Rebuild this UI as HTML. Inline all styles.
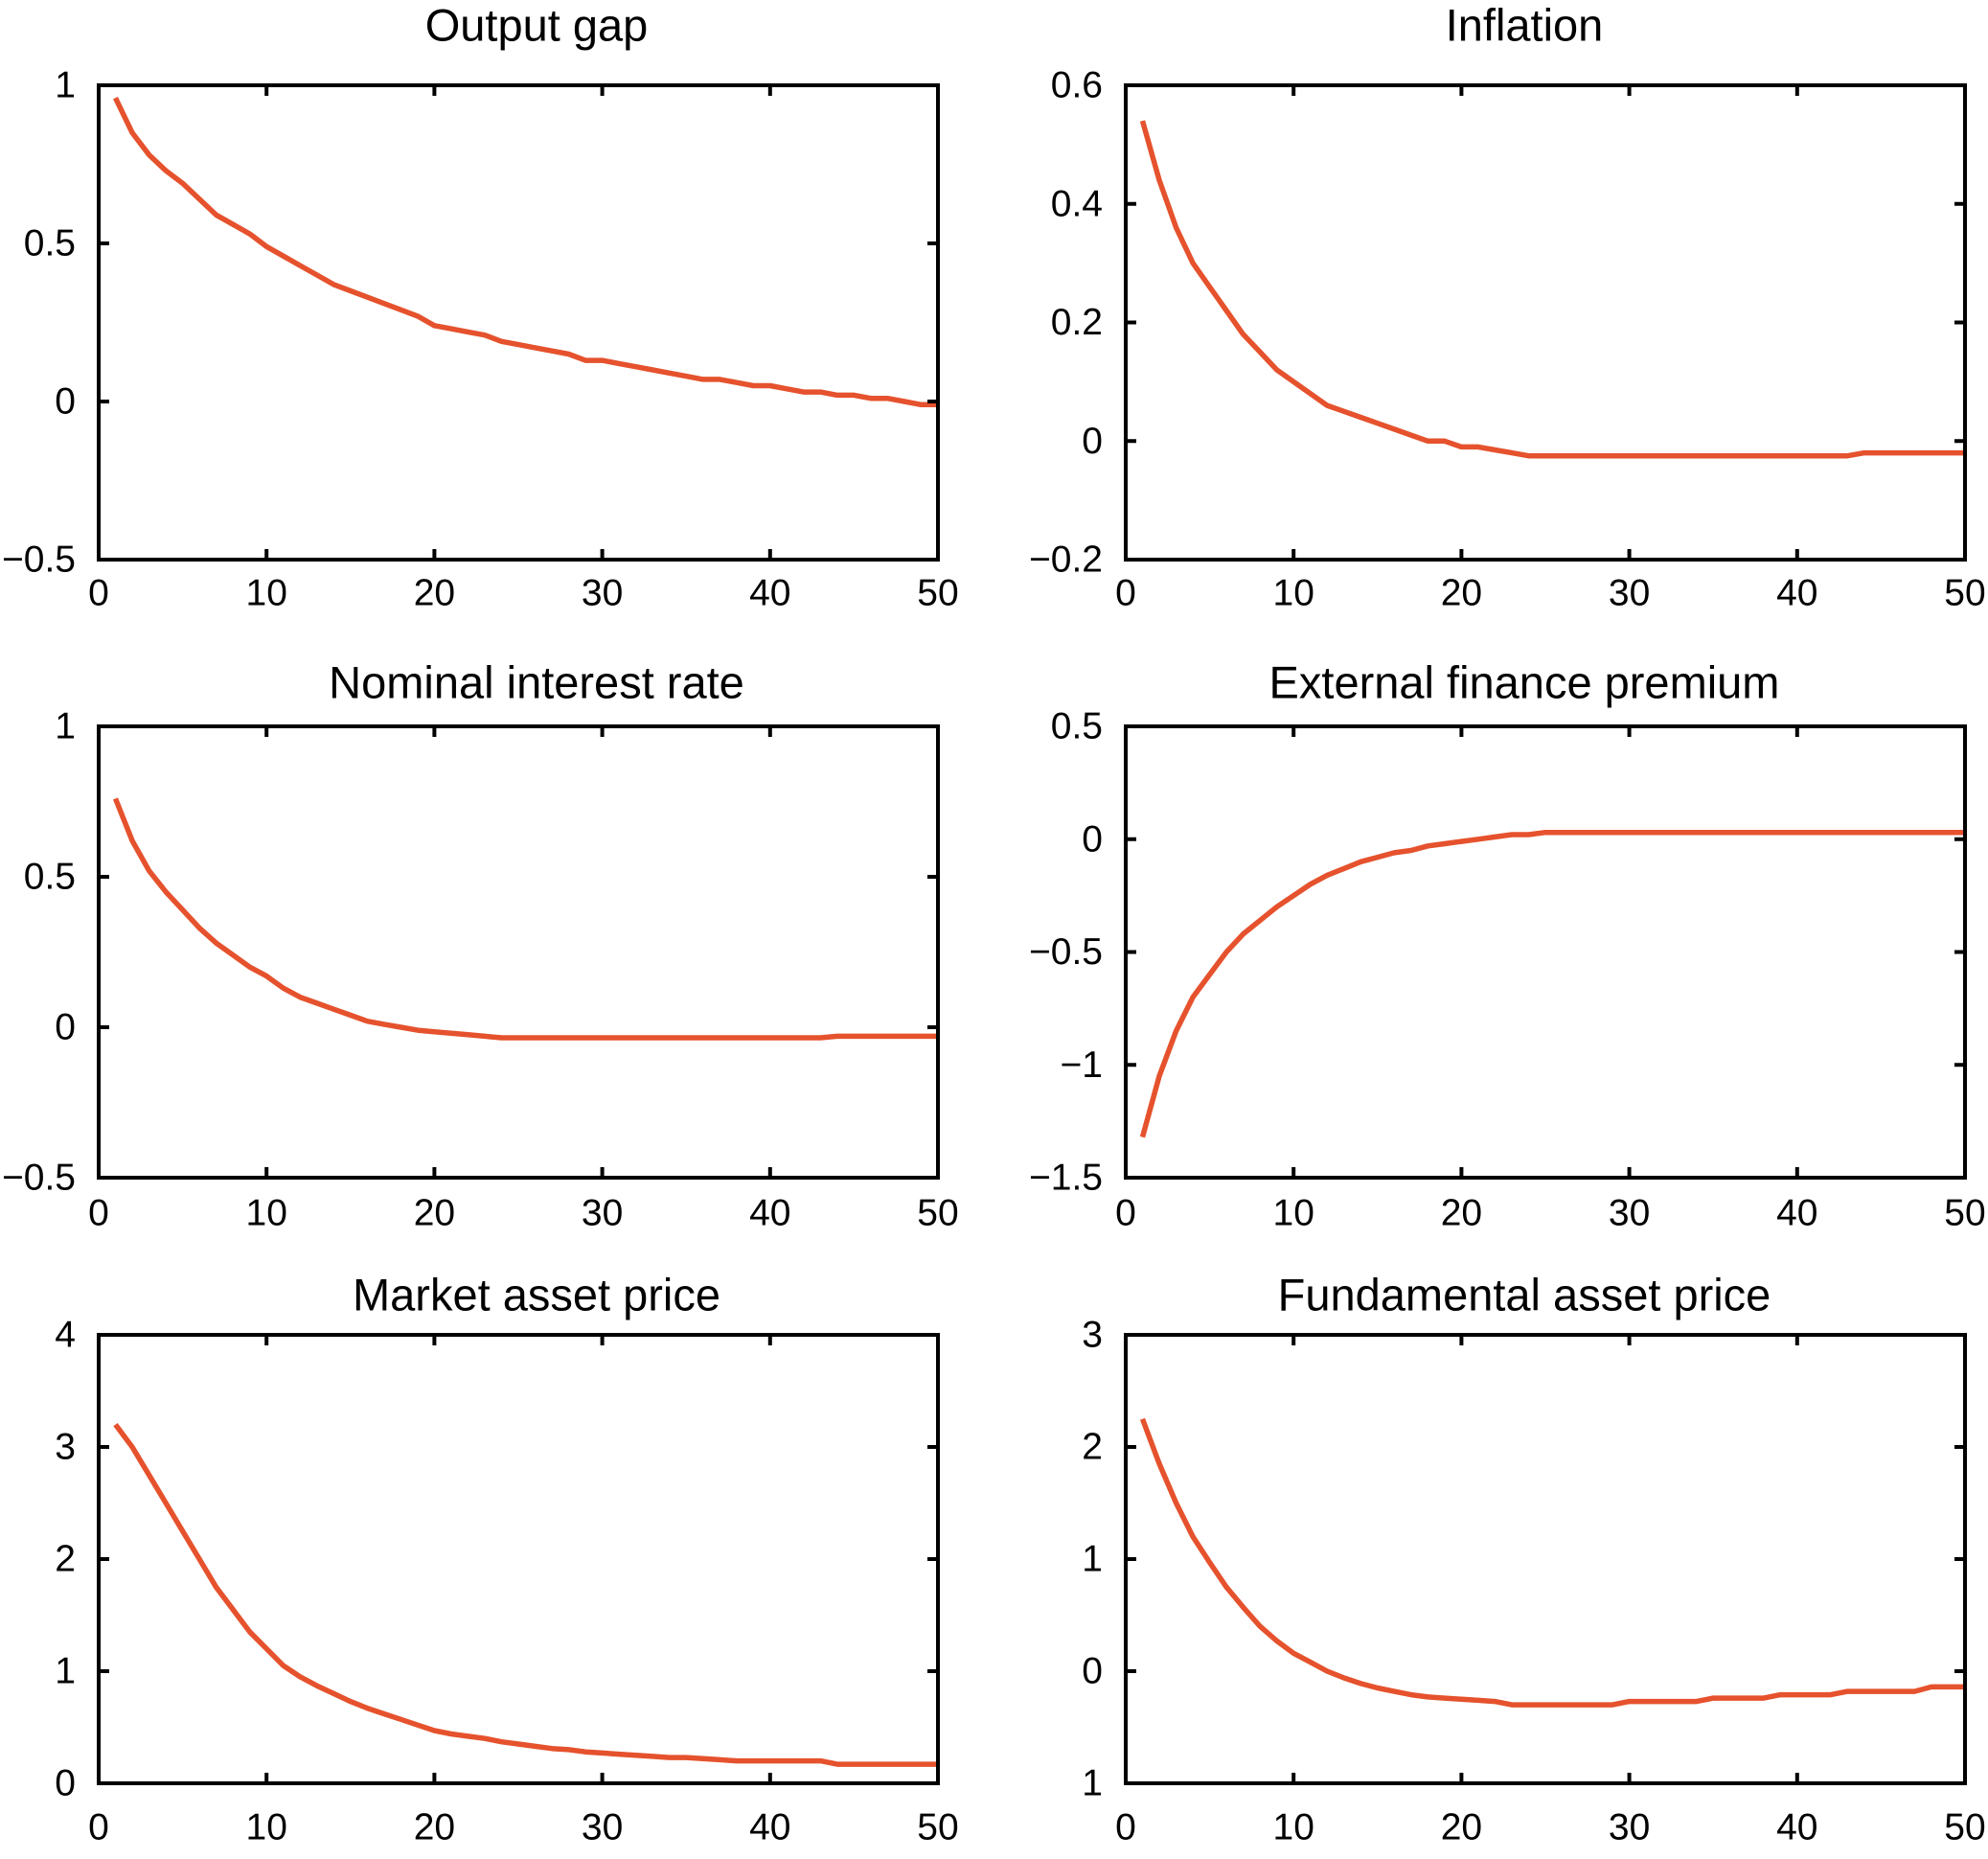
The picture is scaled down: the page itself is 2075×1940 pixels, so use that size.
<!DOCTYPE html>
<html><head><meta charset="utf-8"><style>
html,body{margin:0;padding:0;background:#fff;}
svg{display:block;font-family:"Liberation Sans",Arial,sans-serif;}
</style></head>
<body>
<svg id="fig" width="2075" height="1940" viewBox="0 0 2075 1940" xmlns="http://www.w3.org/2000/svg"></svg>
<script>
const periods = Array.from({length:50},(_,i)=>i+1);
const outputGap = [0.96,0.85,0.78,0.73,0.69,0.64,0.59,0.56,0.53,0.49,0.46,0.43,0.40,0.37,0.35,0.33,0.31,0.29,0.27,0.24,0.23,0.22,0.21,0.19,0.18,0.17,0.16,0.15,0.13,0.13,0.12,0.11,0.10,0.09,0.08,0.07,0.07,0.06,0.05,0.05,0.04,0.03,0.03,0.02,0.02,0.01,0.01,0.00,-0.01,-0.01];
const inflation = [0.54,0.44,0.36,0.30,0.26,0.22,0.18,0.15,0.12,0.10,0.08,0.06,0.05,0.04,0.03,0.02,0.01,0.0,0.0,-0.01,-0.01,-0.015,-0.02,-0.025,-0.025,-0.025,-0.025,-0.025,-0.025,-0.025,-0.025,-0.025,-0.025,-0.025,-0.025,-0.025,-0.025,-0.025,-0.025,-0.025,-0.025,-0.025,-0.025,-0.02,-0.02,-0.02,-0.02,-0.02,-0.02,-0.02];
const nominalRate = [0.76,0.62,0.52,0.45,0.39,0.33,0.28,0.24,0.20,0.17,0.13,0.10,0.08,0.06,0.04,0.02,0.01,0.0,-0.01,-0.015,-0.02,-0.025,-0.03,-0.035,-0.035,-0.035,-0.035,-0.035,-0.035,-0.035,-0.035,-0.035,-0.035,-0.035,-0.035,-0.035,-0.035,-0.035,-0.035,-0.035,-0.035,-0.035,-0.035,-0.03,-0.03,-0.03,-0.03,-0.03,-0.03,-0.03];
const financePremium = [-1.32,-1.05,-0.85,-0.70,-0.60,-0.50,-0.42,-0.36,-0.30,-0.25,-0.20,-0.16,-0.13,-0.10,-0.08,-0.06,-0.05,-0.03,-0.02,-0.01,0.0,0.01,0.02,0.02,0.03,0.03,0.03,0.03,0.03,0.03,0.03,0.03,0.03,0.03,0.03,0.03,0.03,0.03,0.03,0.03,0.03,0.03,0.03,0.03,0.03,0.03,0.03,0.03,0.03,0.03];
const marketPrice = [3.2,3.0,2.75,2.5,2.25,2.0,1.75,1.55,1.35,1.2,1.05,0.95,0.87,0.8,0.73,0.67,0.62,0.57,0.52,0.47,0.44,0.42,0.4,0.37,0.35,0.33,0.31,0.3,0.28,0.27,0.26,0.25,0.24,0.23,0.23,0.22,0.21,0.2,0.2,0.2,0.2,0.2,0.2,0.17,0.17,0.17,0.17,0.17,0.17,0.17];
const fundamentalPrice = [2.25,1.85,1.5,1.2,0.97,0.75,0.57,0.4,0.27,0.16,0.08,0.0,-0.06,-0.11,-0.15,-0.18,-0.21,-0.23,-0.24,-0.25,-0.26,-0.27,-0.3,-0.3,-0.3,-0.3,-0.3,-0.3,-0.3,-0.27,-0.27,-0.27,-0.27,-0.27,-0.24,-0.24,-0.24,-0.24,-0.21,-0.21,-0.21,-0.21,-0.18,-0.18,-0.18,-0.18,-0.18,-0.14,-0.14,-0.14];
const xTicks = [0,10,20,30,40,50];
const ticksA = [-0.5,0,0.5,1]; const labelsA = ["\u22120.5","0","0.5","1"];
const ticksInf = [-0.2,0,0.2,0.4,0.6]; const labelsInf = ["\u22120.2","0","0.2","0.4","0.6"];
const ticksEfp = [-1.5,-1,-0.5,0,0.5]; const labelsEfp = ["\u22121.5","\u22121","\u22120.5","0","0.5"];
const ticksMkt = [0,1,2,3,4]; const labelsMkt = ["0","1","2","3","4"];
const ticksFun = [-1,0,1,2,3]; const labelsFun = ["1","0","1","2","3"];

const NS="http://www.w3.org/2000/svg";
const svg=document.getElementById('fig');
function mk(tag,attrs,parent){const e=document.createElementNS(NS,tag);for(const k in attrs)e.setAttribute(k,attrs[k]);(parent||svg).appendChild(e);return e;}
const cols=[[103,979,560],[1175,2051,1591]];
const rows=[[89,584,26,619],[758,1229,712,1266],[1393,1861,1351,1907]];
const panels=[
 {name:'output-gap',title:'Output gap',data:outputGap,yt:ticksA,yl:labelsA,c:0,r:0},
 {name:'inflation',title:'Inflation',data:inflation,yt:ticksInf,yl:labelsInf,c:1,r:0},
 {name:'nominal-interest-rate',title:'Nominal interest rate',data:nominalRate,yt:ticksA,yl:labelsA,c:0,r:1},
 {name:'external-finance-premium',title:'External finance premium',data:financePremium,yt:ticksEfp,yl:labelsEfp,c:1,r:1},
 {name:'market-asset-price',title:'Market asset price',data:marketPrice,yt:ticksMkt,yl:labelsMkt,c:0,r:2},
 {name:'fundamental-asset-price',title:'Fundamental asset price',data:fundamentalPrice,yt:ticksFun,yl:labelsFun,c:1,r:2}
];
panels.forEach(p=>{
 const [L,R,TX]=cols[p.c]; const [T,B,ty,xly]=rows[p.r];
 const ymin=p.yt[0], ymax=p.yt[p.yt.length-1];
 const sx=v=>L+(v-0)/(50-0)*(R-L);
 const sy=v=>B-(v-ymin)/(ymax-ymin)*(B-T);
 const g=mk('g',{});
 
 
 const t=mk('text',{x:TX,y:ty,'text-anchor':'middle','dominant-baseline':'central','font-size':47,fill:'#000'},g);
 t.textContent=p.title;
 
 
 let d='';
 periods.forEach((x,i)=>{d+=(i?'L':'M')+sx(x).toFixed(1)+','+sy(p.data[i]).toFixed(1);});
 const path=mk('path',{d:d,fill:'none',stroke:'#e5522d','stroke-width':5.5,'stroke-linejoin':'round'},g);
 
 
 xTicks.forEach(v=>{
  const x=sx(v);
  mk('line',{x1:x,x2:x,y1:B,y2:B-11,stroke:'#000','stroke-width':4},g);
  mk('line',{x1:x,x2:x,y1:T,y2:T+11,stroke:'#000','stroke-width':4},g);
  const lab=mk('text',{x:x,y:xly,'text-anchor':'middle','dominant-baseline':'central','font-size':39,fill:'#000'},g);
  lab.textContent=v;
  
  
 });
 p.yt.forEach((v,i)=>{
  const y=sy(v);
  mk('line',{x1:L,x2:L+11,y1:y,y2:y,stroke:'#000','stroke-width':4},g);
  mk('line',{x1:R,x2:R-11,y1:y,y2:y,stroke:'#000','stroke-width':4},g);
  const lab=mk('text',{x:L-24,y:y,'text-anchor':'end','dominant-baseline':'central','font-size':39,fill:'#000'},g);
  lab.textContent=p.yl[i];
  
  
 });
 const box=mk('rect',{x:L,y:T,width:R-L,height:B-T,fill:'none',stroke:'#000','stroke-width':4},g);
 
 
});
</script>
</body></html>
